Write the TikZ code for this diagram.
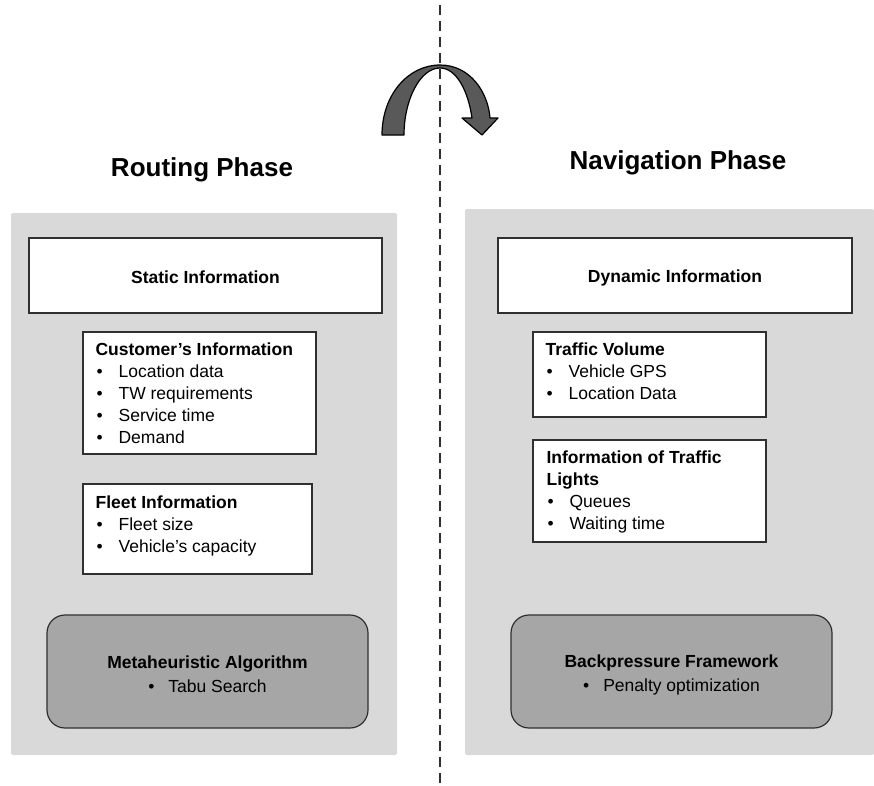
\documentclass[tikz,border=0pt]{standalone}
\usepackage{fontspec}
\setmainfont{Liberation Sans}
\usetikzlibrary{positioning}
\definecolor{panelgray}{HTML}{D9D9D9}
\definecolor{algogray}{HTML}{A6A6A6}
\definecolor{boxline}{HTML}{303030}
\definecolor{arrowgray}{HTML}{595959}
\newcommand{\itm}[1]{\makebox[23pt][l]{\hspace{1pt}\textbullet}#1}

\begin{document}
\begin{tikzpicture}[x=1pt, y=-1pt,
    panel/.style={fill=panelgray, draw=none, rounded corners=2pt},
    infobox/.style={draw=boxline, fill=white, line width=1.2pt, inner sep=0pt},
    algobox/.style={draw=boxline, fill=algogray, line width=1.2pt, rounded corners=18pt, inner sep=0pt},
    algotext/.style={inner sep=0pt, align=center, font=\fontsize{17.5}{24}\selectfont},
    itemtext/.style={anchor=north west, inner sep=0pt, align=left, font=\fontsize{17.5}{22}\selectfont},
    headtext/.style={inner sep=0pt, font=\bfseries\fontsize{17.5}{20}\selectfont},
    phase/.style={inner sep=0pt, font=\bfseries\fontsize{26}{30}\selectfont}]
    \useasboundingbox (0,0) rectangle (874,785);

    % Panels
    \fill[panel] (11,213) rectangle (397,755);
    \fill[panel] (465,209) rectangle (874,755);

    % Divider
    \coordinate (divtop) at (440,5);
    \coordinate (divbot) at (440,785);
    \draw[boxline, line width=1.2pt, dash pattern=on 10pt off 6pt] (divtop) -- (divbot);

    % Turn-over arrow
    \filldraw[fill=arrowgray, draw=black, line width=1.2pt, line join=round]
        (382,135) .. controls (382,95) and (408,65) .. (440,65)
        .. controls (470,65) and (488,92) .. (490,118)
        -- (498,118) -- (482,135) -- (462,118) -- (472,118)
        .. controls (468,90) and (456,68) .. (440,68)
        .. controls (420,68) and (404,100) .. (404,135) -- cycle;

    % Titles
    \node[phase] (routing) at (202,170) {Routing Phase};
    \node[phase] (navigation) at (678,163) {Navigation Phase};

    % Routing side
    \node[infobox, minimum width=353, minimum height=75] (static) at (205.5,275.5) {};
    \node[headtext] (staticlbl) at ([yshift=-2pt]static.center) {Static Information};

    \node[infobox, minimum width=233, minimum height=122] (customer) at (199.5,393) {};
    \node[itemtext] (customertxt) at ([shift={(13,11)}]customer.north west)
        {\textbf{Customer's Information}\\ \itm{Location data}\\ \itm{TW requirements}\\
         \itm{Service time}\\ \itm{Demand}};

    \node[infobox, minimum width=229, minimum height=90] (fleet) at (197.5,529) {};
    \node[itemtext] (fleettxt) at ([shift={(13,12)}]fleet.north west)
        {\textbf{Fleet Information}\\ \itm{Fleet size}\\ \itm{Vehicle's capacity}};

    \node[algobox, minimum width=321, minimum height=113] (meta) at (207.5,671.5) {};
    \node[algotext] (metatxt) at ([yshift=-3pt]meta.center)
        {\textbf{Metaheuristic Algorithm}\\ \textbullet\hspace{14pt}Tabu Search};

    % Navigation side
    \node[infobox, minimum width=354, minimum height=75] (dynamic) at (675,275.5) {};
    \node[headtext] (dynamiclbl) at ([yshift=-2pt]dynamic.center) {Dynamic Information};

    \node[infobox, minimum width=233, minimum height=85] (volume) at (649.5,374.5) {};
    \node[itemtext] (volumetxt) at ([shift={(13,11)}]volume.north west)
        {\textbf{Traffic Volume}\\ \itm{Vehicle GPS}\\ \itm{Location Data}};

    \node[infobox, minimum width=233, minimum height=102] (lights) at (649.5,491) {};
    \node[itemtext] (lightstxt) at ([shift={(14,11)}]lights.north west)
        {\textbf{Information of Traffic}\\ \textbf{Lights}\\ \itm{Queues}\\ \itm{Waiting time}};

    \node[algobox, minimum width=321, minimum height=113] (backpressure) at (671.5,671.5) {};
    \node[algotext] (backpressuretxt) at ([yshift=-3pt]backpressure.center)
        {\textbf{Backpressure Framework}\\ \textbullet\hspace{14pt}Penalty optimization};
\end{tikzpicture}
\end{document}
